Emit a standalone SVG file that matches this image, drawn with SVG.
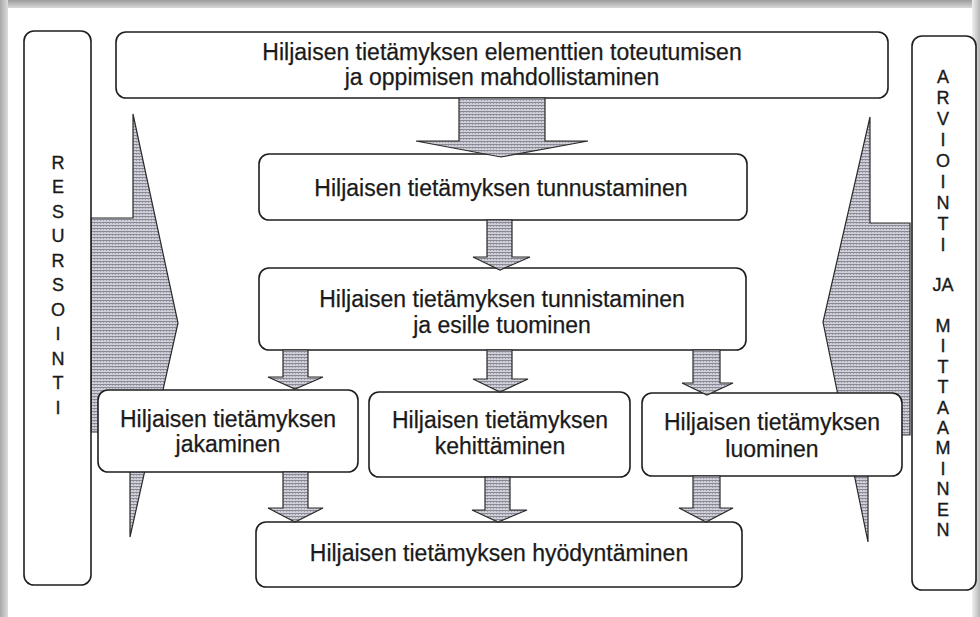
<svg xmlns="http://www.w3.org/2000/svg" width="980" height="617" viewBox="0 0 980 617">
<defs>
<pattern id="hatch" width="3" height="3" patternUnits="userSpaceOnUse">
<rect width="3" height="3" fill="#d0d0d8"/>
<rect width="3" height="1" fill="#8a8a96"/>
<rect x="1" y="1" width="1" height="1" fill="#a0a0ac"/>
</pattern>
<linearGradient id="gTop" x1="0" y1="0" x2="0" y2="1"><stop offset="0" stop-color="#9c9c9c"/><stop offset="1" stop-color="#d8d8d8"/></linearGradient>
<linearGradient id="gLeft" x1="0" y1="0" x2="1" y2="0"><stop offset="0" stop-color="#a8a8a8"/><stop offset="1" stop-color="#dcdcdc"/></linearGradient>
<linearGradient id="gRight" x1="1" y1="0" x2="0" y2="0"><stop offset="0" stop-color="#b4b4b4"/><stop offset="1" stop-color="#f0f0f0"/></linearGradient>
</defs>
<style>
.box{fill:#fff;stroke:#1e1e1e;stroke-width:1.6}
.arr{fill:url(#hatch);stroke:#2a2a2a;stroke-width:1.2;stroke-linejoin:miter}
.t{font-family:"Liberation Sans",Arial,sans-serif;font-size:23px;fill:#1a1a1a;stroke:#1a1a1a;stroke-width:0.25;text-anchor:middle}
.v{font-family:"Liberation Sans",Arial,sans-serif;font-size:18px;fill:#1a1a1a;stroke:#1a1a1a;stroke-width:0.35;text-anchor:middle}
</style>
<rect width="980" height="617" fill="#fff"/>
<rect x="0" y="0" width="980" height="8" fill="url(#gTop)"/>
<rect x="0" y="0" width="8" height="617" fill="url(#gLeft)"/>
<rect x="972" y="0" width="8" height="617" fill="url(#gRight)"/>

<g id="big-arrows">
<polygon class="arr" points="91,218 133,218 133,114 178,323 130,537 130,432 91,432"/>
<polygon class="arr" points="910,223 870,223 870,117 823,322 868,542 868,435 910,435"/>
</g>

<g id="resursointi">
<rect class="box" x="24" y="31" width="67" height="554" rx="10"/>
<g class="v">
<text x="58" y="169">R</text><text x="58" y="193">E</text><text x="58" y="218">S</text><text x="58" y="242">U</text><text x="58" y="267">R</text><text x="58" y="291">S</text><text x="58" y="316">O</text><text x="58" y="340">I</text><text x="58" y="365">N</text><text x="58" y="389">T</text><text x="58" y="414">I</text>
</g>
</g>

<g id="arviointi">
<rect class="box" x="912" y="36" width="64" height="554" rx="10"/>
<g class="v">
<text x="943" y="83">A</text><text x="943" y="104">R</text><text x="943" y="125">V</text><text x="943" y="146">I</text><text x="943" y="167">O</text><text x="943" y="188">I</text><text x="943" y="209">N</text><text x="943" y="230">T</text><text x="943" y="251">I</text>
<text x="943" y="291">JA</text>
<text x="943" y="332">M</text><text x="943" y="352">I</text><text x="943" y="373">T</text><text x="943" y="393">T</text><text x="943" y="414">A</text><text x="943" y="434">A</text><text x="943" y="454">M</text><text x="943" y="475">I</text><text x="943" y="495">N</text><text x="943" y="516">E</text><text x="943" y="536">N</text>
</g>
</g>

<g id="n-elementit">
<rect class="box" x="116" y="32" width="772" height="66" rx="10"/>
<text class="t" x="502" y="60">Hiljaisen tietämyksen elementtien toteutumisen</text>
<text class="t" x="502" y="85">ja oppimisen mahdollistaminen</text>
</g>

<g id="n-tunnustaminen">
<rect class="box" x="259" y="154" width="488" height="66" rx="10"/>
<text class="t" x="501" y="196">Hiljaisen tietämyksen tunnustaminen</text>
</g>

<g id="n-tunnistaminen">
<rect class="box" x="259" y="268" width="487" height="82" rx="10"/>
<text class="t" x="502" y="307">Hiljaisen tietämyksen tunnistaminen</text>
<text class="t" x="502" y="333">ja esille tuominen</text>
</g>

<g id="n-jakaminen">
<rect class="box" x="98" y="390" width="260" height="82" rx="10"/>
<text class="t" x="228" y="427">Hiljaisen tietämyksen</text>
<text class="t" x="228" y="452">jakaminen</text>
</g>

<g id="n-kehittaminen">
<rect class="box" x="369" y="392" width="261" height="85" rx="10"/>
<text class="t" x="500" y="428">Hiljaisen tietämyksen</text>
<text class="t" x="500" y="454">kehittäminen</text>
</g>

<g id="n-luominen">
<rect class="box" x="642" y="393" width="260" height="83" rx="10"/>
<text class="t" x="772" y="430">Hiljaisen tietämyksen</text>
<text class="t" x="772" y="457">luominen</text>
</g>

<g id="n-hyodyntaminen">
<rect class="box" x="256" y="522" width="486" height="65" rx="10"/>
<text class="t" x="499" y="561">Hiljaisen tietämyksen hyödyntäminen</text>
</g>

<g id="connectors">
<polygon class="arr" points="459,98 545,98 545,141 588,141 501,157 416,141 459,141"/>
<polygon class="arr" points="487,220 512,220 512,257 530,257 500,270 473,257 487,257"/>
<polygon class="arr" points="283,350 308,350 308,377 323,377 295,389 268,377 283,377"/>
<polygon class="arr" points="487,350 512,350 512,379 528,379 500,392 473,379 487,379"/>
<polygon class="arr" points="693,350 720,350 720,383 733,383 707,395 682,383 693,383"/>
<polygon class="arr" points="283,472 308,472 308,508 323,508 295,522 268,508 283,508"/>
<polygon class="arr" points="485,477 510,477 510,510 527,510 498,522 472,510 485,510"/>
<polygon class="arr" points="693,476 720,476 720,508 733,508 706,522 679,508 693,508"/>
</g>
</svg>
